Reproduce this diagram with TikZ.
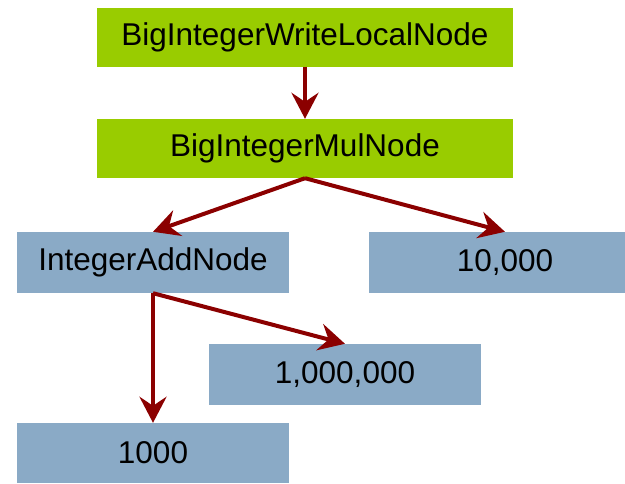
\documentclass[tikz,border=0pt]{standalone}
\usepackage{fontspec}
\setmainfont{Liberation Sans}
\usetikzlibrary{arrows.meta}
\definecolor{boxgreen}{RGB}{153,204,0}
\definecolor{boxblue}{RGB}{138,170,198}
\definecolor{arrowred}{RGB}{139,0,0}
\begin{document}
\begin{tikzpicture}[x=1pt,y=-1pt,
  greenbox/.style={fill=boxgreen,draw=none,minimum width=416pt,minimum height=59pt,inner sep=0pt,font=\fontsize{31.5}{36}\selectfont,text=black},
  bluebox/.style={fill=boxblue,draw=none,minimum width=272pt,minimum height=61pt,inner sep=0pt,font=\fontsize{31.5}{36}\selectfont,text=black},
  conn/.style={draw=arrowred,line width=4pt,-{Stealth[length=26pt,width=27pt,inset=9pt]}}]
\useasboundingbox (0,0) rectangle (625,483);
\clip (0,0) rectangle (625,483);
\node[greenbox] (wl) at (305,37) {BigIntegerWriteLocalNode};
\node[greenbox] (mul) at (305,148.5) {BigIntegerMulNode};
\node[bluebox] (add) at (153,262.5) {IntegerAddNode};
\node[bluebox] (tenk) at (505,262.5) {10,000};
\node[bluebox] (mil) at (345,374.5) {1,000,000};
\node[bluebox,minimum height=60pt] (thou) at (153,453) {1000};
\draw[conn] (wl.south) -- (mul.north);
\draw[conn] (mul.south) -- (add.north);
\draw[conn] (mul.south) -- (tenk.north);
\draw[conn] (add.south) -- (mil.north);
\draw[conn] (add.south) -- (thou.north);
\end{tikzpicture}
\end{document}
